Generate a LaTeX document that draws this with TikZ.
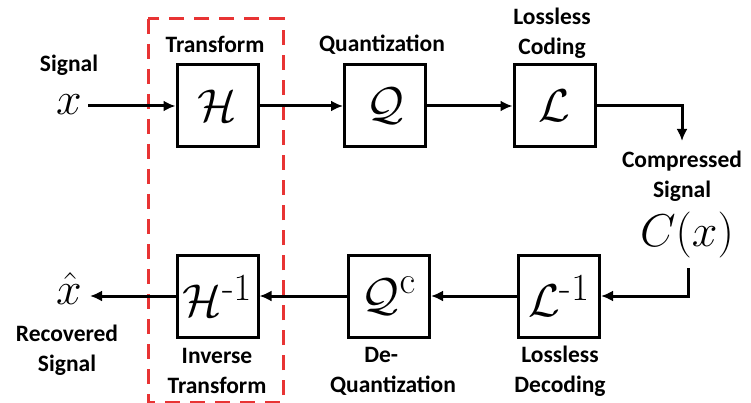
\documentclass[tikz,border=0pt]{standalone}
\usepackage{amsmath}
\usepackage{graphicx}
\usepackage[no-math]{fontspec}
\newfontfamily\lbl{Carlito}
\usetikzlibrary{arrows.meta}
\definecolor{redbox}{RGB}{232,52,52}
\newcommand{\mysym}[1]{\scalebox{1.85}{\Huge$#1$}}
\begin{document}
\begin{tikzpicture}[x=1pt,y=-1pt,
  blk/.style={draw,line width=3pt,minimum width=81pt,minimum height=82pt,inner sep=0pt},
  lab/.style={font=\lbl\bfseries\fontsize{23.5}{30}\selectfont,align=center,inner sep=0pt},
  mth/.style={inner sep=0pt},
  conn/.style={line width=3pt,-{Latex[length=12pt,width=11pt]}}]
\useasboundingbox (0,0) rectangle (751,403);
\fill[white] (0,0) rectangle (751,403);
% red dashed frame
\draw[redbox,line width=3pt,dash pattern=on 15pt off 10pt] (148,19) rectangle (283,402);
% top row
\node[blk] (H) at (217.5,106) {\mysym{\mathcal{H}}};
\node[blk] (Q) at (385,106) {\mysym{\mathcal{Q}}};
\node[blk] (L) at (554.5,106) {\mysym{\mathcal{L}}};
\node[mth] (x) at (69,105) {\mysym{x}};
\node[lab] (sig) at (69,65) {Signal};
\node[lab] (tr) at (215,44) {Transform};
\node[lab] (qu) at (382,45) {Quantization};
\node[lab] (lc) at (552,33) {Lossless\\Coding};
\coordinate (c1) at (682,141);
\node[lab] (cs) at (682,176) {Compressed\\Signal};
\node[mth] (cx) at (687,235) {\mysym{C(x)}};
\coordinate (c2) at (688,268);
% bottom row
\node[blk] (Li) at (559,296) {\mysym{\mathcal{L}^{\text{-}1}}};
\node[blk] (Qc) at (389,296) {\mysym{\mathcal{Q}^{\mathrm{c}}}};
\node[blk] (Hi) at (217.5,296) {\mysym{\mathcal{H}^{\text{-}1}}};
\node[mth] (xh) at (69,289) {\mysym{\hat{x}}};
\node[lab] (rs) at (67,350) {Recovered\\Signal};
\node[lab] (it) at (217,371) {Inverse\\Transform};
\node[lab] (dq) at (393,371) {De-\hspace*{1em}\\Quantization};
\node[lab] (ld) at (560,371) {Lossless\\Decoding};
% connectors
\draw[conn] ([xshift=6pt]x.east |- H.west) -- (H.west);
\draw[conn] (H.east) -- (Q.west);
\draw[conn] (Q.east) -- (L.west);
\draw[conn] (L.east) -| (c1);
\draw[conn] (c2) |- (Li.east);
\draw[conn] (Li.west) -- (Qc.west -| Qc.east);
\draw[conn] (Qc.west) -- (Hi.east);
\draw[conn] (Hi.west) -- ([xshift=8pt]xh.east |- Hi.west);
\end{tikzpicture}
\end{document}
